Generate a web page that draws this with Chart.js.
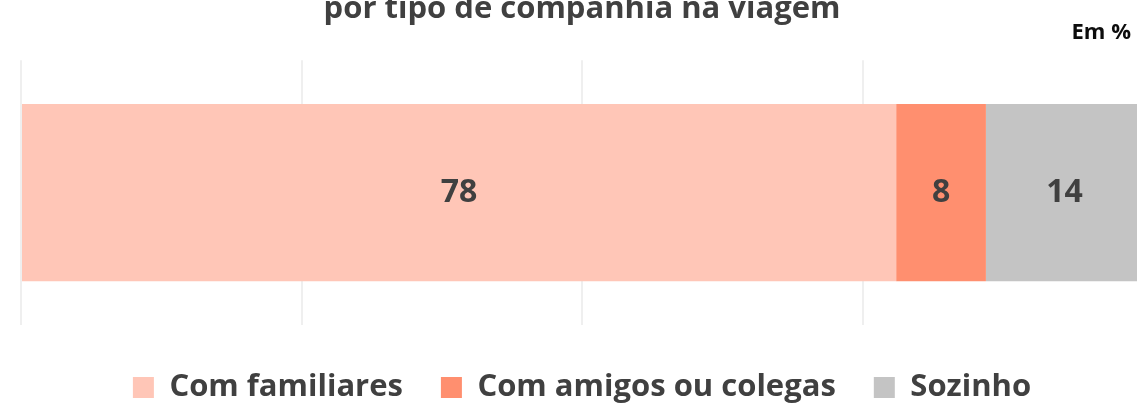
<!DOCTYPE html>
<html>
<head>
<meta charset="utf-8">
<script src="https://cdn.jsdelivr.net/npm/chart.js@4.4.1/dist/chart.umd.min.js"></script>
<style>
html,body{margin:0;padding:0;background:#fff;overflow:hidden;width:1137px;height:404px;}
#wrap{position:relative;width:1160px;height:422px;margin-top:-9px;}
</style>
</head>
<body>
<div id="wrap"><canvas id="c" width="1160" height="422"></canvas></div>
<script>
const categories = [''];
const seriesNames = ['Com familiares', 'Com amigos ou colegas', 'Sozinho'];
const familiares = [78];
const amigos = [8];
const sozinho = [14];
const xTicks = [0, 25, 50, 75, 100];
const titleText = 'por tipo de companhia na viagem';
const unitText = 'Em %';
const colors = ['#FFC6B7', '#FF8F6F', '#C4C4C4'];

const labelPlugin = {
  id: 'barLabels',
  afterDatasetsDraw(chart) {
    const ctx = chart.ctx;
    ctx.save();
    ctx.font = 'bold 32px "Open Sans"';
    ctx.fillStyle = '#404040';
    ctx.textAlign = 'center';
    ctx.textBaseline = 'middle';
    chart.data.datasets.forEach((ds, i) => {
      const meta = chart.getDatasetMeta(i);
      meta.data.forEach((bar, j) => {
        const p = bar.getProps(['x', 'y', 'base'], true);
        ctx.fillText(String(ds.data[j]), (p.x + p.base) / 2, p.y);
      });
    });
    ctx.restore();
  }
};
const unitPlugin = {
  id: 'unitText',
  afterDraw(chart) {
    const ctx = chart.ctx;
    ctx.save();
    ctx.font = 'bold 22px "Open Sans"';
    ctx.fillStyle = '#0d0d0d';
    ctx.textAlign = 'right';
    ctx.textBaseline = 'alphabetic';
    ctx.fillText(unitText, 1131, 48);
    ctx.restore();
  }
};

new Chart(document.getElementById('c'), {
  type: 'bar',
  data: {
    labels: categories,
    datasets: [
      { label: seriesNames[0], data: familiares, backgroundColor: colors[0] },
      { label: seriesNames[1], data: amigos, backgroundColor: colors[1] },
      { label: seriesNames[2], data: sozinho, backgroundColor: colors[2] }
    ]
  },
  options: {
    indexAxis: 'y',
    responsive: false,
    animation: false,
    devicePixelRatio: 1,
    barPercentage: 0.67,
    categoryPercentage: 1,
    layout: { padding: { left: 21, right: 17, top: 0, bottom: 0 } },
    scales: {
      x: {
        stacked: true, min: xTicks[0], max: xTicks[xTicks.length - 1],
        afterBuildTicks: (axis) => { axis.ticks = xTicks.map(v => ({ value: v })); },
        afterFit: (axis) => { axis.height = 9; },
        ticks: { display: false },
        grid: { color: '#EFEFEF', lineWidth: 2, drawTicks: false },
        border: { display: false }
      },
      y: { stacked: true, display: false }
    },
    plugins: {
      tooltip: { enabled: false },
      title: {
        display: true, text: titleText,
        font: { family: 'Open Sans', weight: 'bold', size: 31, lineHeight: 1.2 },
        color: '#404040',
        padding: { top: 0, bottom: 32 }
      },
      legend: {
        position: 'bottom',
        labels: {
          boxWidth: 21, boxHeight: 21, padding: 38,
          font: { family: 'Open Sans', weight: 'bold', size: 31 },
          color: '#404040'
        }
      }
    }
  },
  plugins: [labelPlugin, unitPlugin]
});
</script>
</body>
</html>
